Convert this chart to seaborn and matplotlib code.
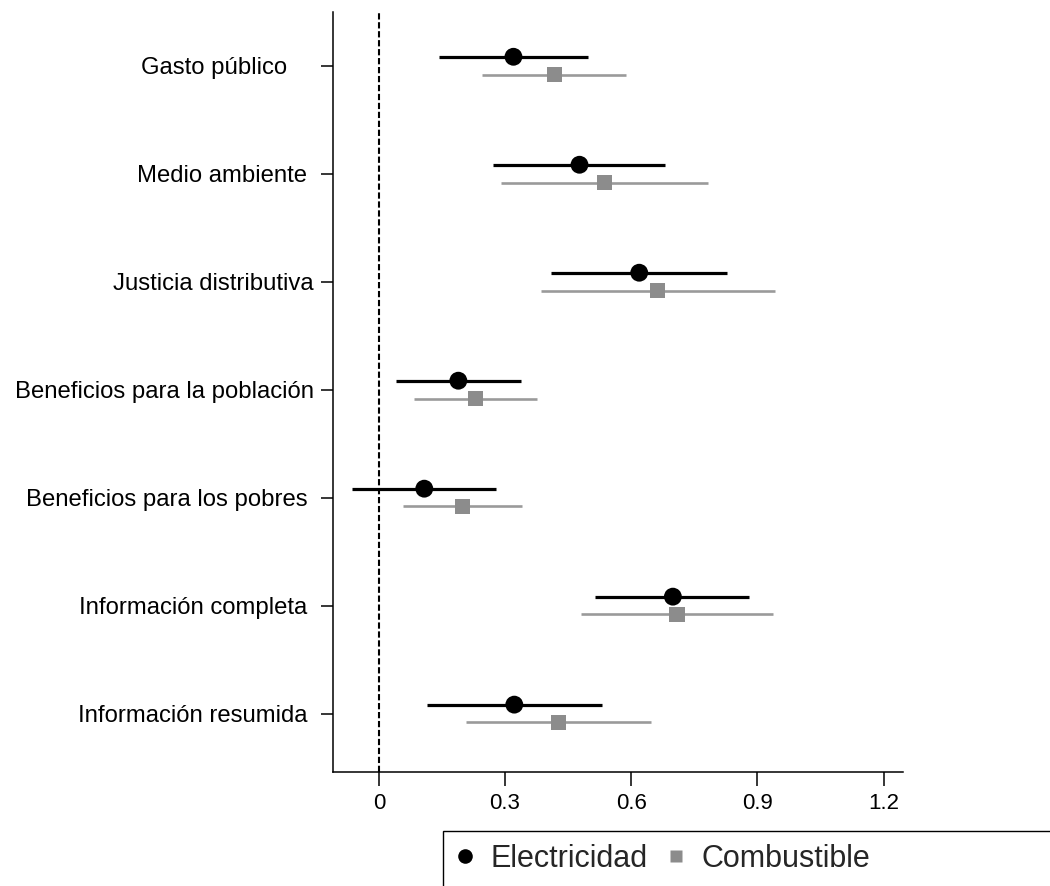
import numpy as np
import pandas as pd
import matplotlib
matplotlib.use("Agg")
import matplotlib.pyplot as plt
import seaborn as sns
from matplotlib.lines import Line2D
from matplotlib.patches import Rectangle

# ---------------- data ----------------
categories = [
    "Gasto público    ",
    "Medio ambiente ",
    "Justicia distributiva",
    "Beneficios para la población",
    "Beneficios para los pobres ",
    "Información completa ",
    "Información resumida ",
]
series = ["Electricidad", "Combustible"]

elec_est = [0.320, 0.477, 0.619, 0.189, 0.108, 0.699, 0.322]
elec_lo = [0.142, 0.271, 0.410, 0.040, -0.063, 0.514, 0.115]
elec_hi = [0.498, 0.681, 0.827, 0.337, 0.279, 0.881, 0.530]

comb_est = [0.417, 0.536, 0.663, 0.229, 0.198, 0.709, 0.427]
comb_lo = [0.246, 0.290, 0.385, 0.084, 0.058, 0.480, 0.207]
comb_hi = [0.588, 0.782, 0.942, 0.375, 0.340, 0.938, 0.647]

x_ticks = [0, 0.3, 0.6, 0.9, 1.2]
x_ticklabels = ["0", "0.3", "0.6", "0.9", "1.2"]

# ---------------- styling ----------------
sns.set_theme(style="white")
plt.rcParams["font.family"] = ["Liberation Sans", "DejaVu Sans"]

offsets = {"Electricidad": -0.085, "Combustible": 0.08}
point_colors = {"Electricidad": "#000000", "Combustible": "#8c8c8c"}
line_colors = {"Electricidad": "#000000", "Combustible": "#9a9a9a"}
line_widths = {"Electricidad": 2.3, "Combustible": 1.9}
markers = {"Electricidad": "o", "Combustible": "s"}
msizes = {"Electricidad": 165, "Combustible": 120}

rows = []
for s, est, lo, hi in [("Electricidad", elec_est, elec_lo, elec_hi),
                       ("Combustible", comb_est, comb_lo, comb_hi)]:
    for i, c in enumerate(categories):
        rows.append({"cat": c, "pos": i + offsets[s], "series": s,
                     "est": est[i], "lo": lo[i], "hi": hi[i]})
df = pd.DataFrame(rows)

fig = plt.figure(figsize=(10.5, 8.86), dpi=100)
ax = fig.add_axes([0.3169, 0.1289, 0.8599 - 0.3169, 0.9865 - 0.1289])

ax.axvline(0, color="black", lw=1.5, dashes=(3, 1.3), zorder=1)

for s in series:
    d = df[df["series"] == s]
    ax.hlines(d["pos"], d["lo"], d["hi"], color=line_colors[s],
              lw=line_widths[s], zorder=2)
    sns.scatterplot(data=d, x="est", y="pos", ax=ax, color=point_colors[s],
                    marker=markers[s], s=msizes[s], edgecolor="none",
                    linewidth=0, zorder=3, legend=False)

ax.set_xlim(-0.1096, 1.2458)
ax.set_ylim(len(categories) - 1 + 0.537, -0.5)
ax.set_yticks(range(len(categories)))
ax.set_yticklabels(categories)
ax.set_xticks(x_ticks)
ax.set_xticklabels(x_ticklabels)
ax.set_xlabel("")
ax.set_ylabel("")

for side in ["top", "right"]:
    ax.spines[side].set_visible(False)
for side in ["left", "bottom"]:
    ax.spines[side].set_color("black")
    ax.spines[side].set_linewidth(1.1)

ax.tick_params(axis="y", which="major", left=True, length=8.6, width=1.1,
               color="black", labelsize=17.2, pad=5, labelcolor="black")
ax.tick_params(axis="x", which="major", bottom=True, length=10, width=1.1,
               color="black", labelsize=16, pad=5, labelcolor="black")

# legend (box extends past figure edge as in the reference)
handles = [
    Line2D([], [], marker="o", color="none", markerfacecolor="#000000",
           markeredgecolor="none", markersize=10.5, label="Electricidad"),
    Line2D([], [], marker="s", color="none", markerfacecolor="#8c8c8c",
           markeredgecolor="none", markersize=8.6, label="Combustible"),
]
fig.legend(handles=handles, loc="center left",
           bbox_to_anchor=(453 / 1050, 1 - 859 / 886), ncol=2, frameon=False,
           fontsize=22, handlelength=0.8, handletextpad=0.42,
           columnspacing=0.55, borderpad=0, borderaxespad=0)
fig.add_artist(Rectangle((443 / 1050, -0.2), 1.0, 0.2 + (886 - 831) / 886,
                         transform=fig.transFigure, fill=False,
                         edgecolor="black", lw=1.0))

fig.savefig("out.png", dpi=100)
